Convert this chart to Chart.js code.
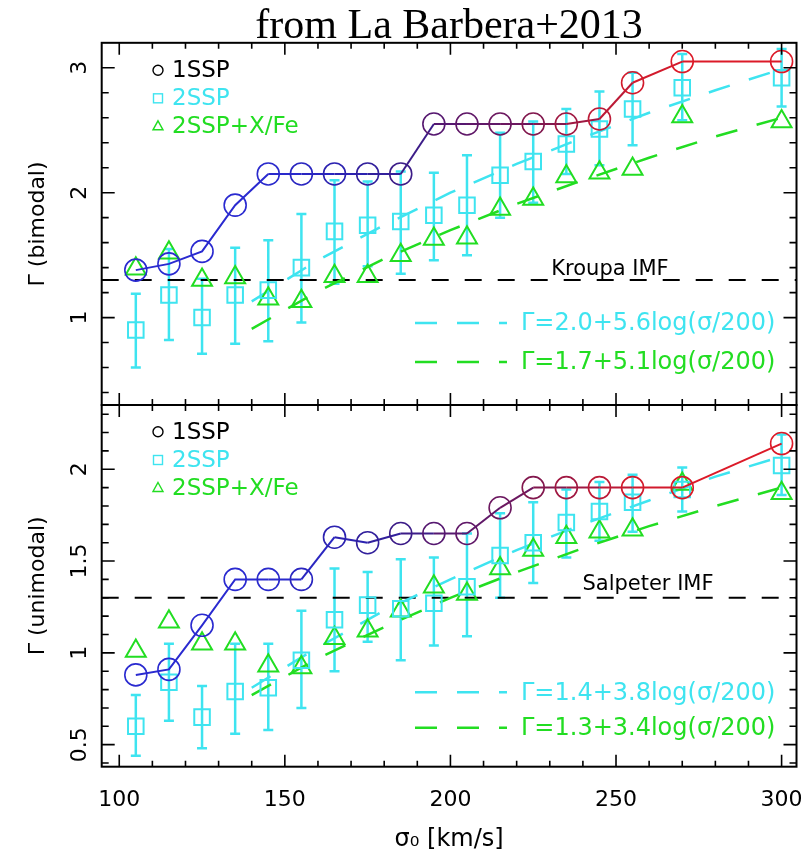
<!DOCTYPE html>
<html>
<head>
<meta charset="utf-8">
<script src="https://cdn.jsdelivr.net/npm/chart.js@4.4.0/dist/chart.umd.min.js"></script>
<style>
  html, body { margin: 0; padding: 0; background: #fff; }
  #wrap { position: relative; width: 805px; height: 860px; }
  #topChart { position: absolute; left: 0; top: 0; }
  #botChart { position: absolute; left: 0; top: 403px; }
</style>
</head>
<body>
<div id="wrap">
  <canvas id="topChart" width="805" height="407"></canvas>
  <canvas id="botChart" width="805" height="457"></canvas>
</div>
<script>
// velocity dispersion bins (km/s)
const sigma = [105, 115, 125, 135, 145, 155, 165, 175, 185, 195, 205, 215, 225, 235, 245, 255, 270, 300];

// bimodal IMF slope
const ssp1Bi   = [1.38, 1.43, 1.53, 1.90, 2.15, 2.15, 2.15, 2.15, 2.15, 2.55, 2.55, 2.55, 2.55, 2.55, 2.59, 2.88, 3.05, 3.05];
const ssp2Bi   = [0.90, 1.18, 1.00, 1.18, 1.22, 1.40, 1.69, 1.74, 1.77, 1.82, 1.90, 2.14, 2.25, 2.39, 2.51, 2.67, 2.84, 2.92];
const ssp2BiLo = [0.60, 0.82, 0.71, 0.79, 0.81, 0.96, 1.27, 1.41, 1.35, 1.46, 1.50, 1.80, 1.92, 2.15, 2.22, 2.38, 2.58, 2.69];
const ssp2BiHi = [1.19, 1.55, 1.31, 1.56, 1.62, 1.83, 2.10, 2.09, 2.17, 2.16, 2.30, 2.48, 2.57, 2.67, 2.81, 2.96, 3.11, 3.15];
const xfeBi    = [1.39, 1.52, 1.30, 1.32, 1.15, 1.13, 1.33, 1.33, 1.50, 1.63, 1.64, 1.87, 1.95, 2.13, 2.16, 2.19, 2.61, 2.57];

// unimodal IMF slope
const ssp1Uni   = [0.88, 0.91, 1.15, 1.40, 1.40, 1.40, 1.63, 1.60, 1.65, 1.65, 1.65, 1.79, 1.90, 1.90, 1.90, 1.90, 1.90, 2.14];
const ssp2Uni   = [0.60, 0.84, 0.65, 0.79, 0.81, 0.96, 1.18, 1.26, 1.24, 1.27, 1.36, 1.53, 1.60, 1.71, 1.77, 1.82, 1.89, 2.02];
const ssp2UniLo = [0.44, 0.63, 0.48, 0.56, 0.58, 0.70, 0.90, 1.06, 0.96, 1.04, 1.09, 1.30, 1.38, 1.52, 1.61, 1.66, 1.77, 1.86];
const ssp2UniHi = [0.77, 1.05, 0.82, 1.05, 1.05, 1.23, 1.46, 1.44, 1.51, 1.52, 1.65, 1.76, 1.82, 1.89, 1.93, 1.97, 2.01, 2.19];
const xfeUni    = [1.01, 1.17, 1.05, 1.05, 0.93, 0.92, 1.08, 1.12, 1.23, 1.36, 1.32, 1.46, 1.56, 1.63, 1.66, 1.67, 1.92, 1.87];

// fitted relations
const fitSigma    = [140, 160, 180, 200, 220, 240, 260, 280, 300];
const fitBiCyan   = [1.13, 1.46, 1.74, 2.00, 2.23, 2.44, 2.64, 2.82, 2.99];
const fitBiGreen  = [0.91, 1.21, 1.47, 1.70, 1.91, 2.10, 2.28, 2.45, 2.60];
const fitUniCyan  = [0.81, 1.03, 1.23, 1.40, 1.56, 1.70, 1.83, 1.96, 2.07];
const fitUniGreen = [0.77, 0.97, 1.14, 1.30, 1.44, 1.57, 1.69, 1.80, 1.90];

const kroupa = 1.3;
const salpeter = 1.3;

// tick labels
const xTicks = [100, 150, 200, 250, 300];
const yTicksBi = [1, 2, 3];
const yTicksUni = [0.5, 1, 1.5, 2];

const X_MIN = 94.7, X_MAX = 304.5;
const CYAN = '#3ee4f0';
const GREEN = '#22dd22';
const FONT = '"DejaVu Sans", sans-serif';
// blue -> purple -> red along the 1SSP sequence
const sspColors = ['#2a2ad0', '#2a2ad0', '#2a2ad0', '#2a2ad0', '#2a2acc', '#2a26c0', '#2c22b0', '#32209c',
  '#3c1c88', '#561870', '#601868', '#6c1860', '#82184e', '#a01842', '#bc1a36', '#d21a2c', '#dc1a28', '#dc1a28'];

const pts = (xs, ys) => xs.map((v, i) => ({ x: v, y: ys[i] }));

// PGPLOT-like frame, inward ticks, error bars and in-plot labels
const pgFrame = {
  id: 'pgFrame',
  beforeDatasetsDraw(chart, args, opts) {
    const { ctx, scales: { x, y } } = chart;
    ctx.save();
    ctx.strokeStyle = CYAN;
    ctx.lineWidth = 2.5;
    ctx.beginPath();
    sigma.forEach((s, i) => {
      const px = x.getPixelForValue(s);
      const lo = y.getPixelForValue(opts.lo[i]);
      const hi = y.getPixelForValue(opts.hi[i]);
      ctx.moveTo(px, lo); ctx.lineTo(px, hi);
      ctx.moveTo(px - 5, lo); ctx.lineTo(px + 5, lo);
      ctx.moveTo(px - 5, hi); ctx.lineTo(px + 5, hi);
    });
    ctx.stroke();
    ctx.restore();
  },
  afterDraw(chart, args, opts) {
    const { ctx, chartArea: a, scales: { x, y } } = chart;
    ctx.save();
    ctx.strokeStyle = '#000';
    ctx.lineWidth = 2;
    ctx.strokeRect(a.left, a.top, a.right - a.left, a.bottom - a.top);

    ctx.lineWidth = 1.6;
    ctx.beginPath();
    for (let v = 100; v <= 300; v += 10) {
      const px = x.getPixelForValue(v);
      const len = v % 50 === 0 ? 12 : 6;
      ctx.moveTo(px, a.bottom); ctx.lineTo(px, a.bottom - len);
      ctx.moveTo(px, a.top); ctx.lineTo(px, a.top + len);
    }
    const n = Math.round((opts.yLast - opts.yFirst) / opts.yMinor);
    for (let k = 0; k <= n; k++) {
      const v = opts.yFirst + k * opts.yMinor;
      const r = v / opts.yMajor;
      const len = Math.abs(r - Math.round(r)) < 1e-6 ? 13 : 7;
      const py = y.getPixelForValue(v);
      ctx.moveTo(a.left, py); ctx.lineTo(a.left + len, py);
      ctx.moveTo(a.right, py); ctx.lineTo(a.right - len, py);
    }
    ctx.stroke();

    // rotated y tick labels
    ctx.fillStyle = '#000';
    ctx.font = '22px ' + FONT;
    ctx.textAlign = 'center';
    ctx.textBaseline = 'alphabetic';
    opts.yTicks.forEach(v => {
      ctx.save();
      ctx.translate(86, y.getPixelForValue(v));
      ctx.rotate(-Math.PI / 2);
      ctx.fillText(String(v), 0, 0);
      ctx.restore();
    });

    // key, top left
    const kx = 158, tx = 172;
    const ky = opts.keyY.map(d => a.top + d);
    ctx.lineWidth = 1.4;
    ctx.strokeStyle = '#000';
    ctx.beginPath(); ctx.arc(kx, ky[0], 5, 0, Math.PI * 2); ctx.stroke();
    ctx.strokeStyle = CYAN;
    ctx.strokeRect(kx - 4.5, ky[1] - 4.5, 9, 9);
    ctx.strokeStyle = GREEN;
    ctx.beginPath();
    ctx.moveTo(kx, ky[2] - 5.5); ctx.lineTo(kx + 5, ky[2] + 3.5); ctx.lineTo(kx - 5, ky[2] + 3.5); ctx.closePath();
    ctx.stroke();
    ctx.font = '23px ' + FONT;
    ctx.textAlign = 'left';
    ctx.textBaseline = 'middle';
    [['1SSP', '#000'], ['2SSP', CYAN], ['2SSP+X/Fe', GREEN]].forEach(([t, c], i) => {
      ctx.fillStyle = c;
      ctx.fillText(t, tx, ky[i] + 1);
    });

    // fit legend, bottom right
    ctx.font = '24px ' + FONT;
    ctx.lineWidth = 2.5;
    ctx.setLineDash([22, 20]);
    [[opts.fitText[0], CYAN], [opts.fitText[1], GREEN]].forEach(([t, c], i) => {
      const py = a.bottom - opts.fitY[i];
      ctx.strokeStyle = c;
      ctx.beginPath(); ctx.moveTo(415, py); ctx.lineTo(507, py); ctx.stroke();
      ctx.fillStyle = c;
      ctx.fillText(t, 521, py + 1);
    });
    ctx.setLineDash([]);

    // IMF reference label
    ctx.fillStyle = '#000';
    ctx.font = '21px ' + FONT;
    ctx.textAlign = 'center';
    ctx.textBaseline = 'alphabetic';
    ctx.fillText(opts.imfText, opts.imfX, y.getPixelForValue(opts.imfValue) - opts.imfGap);
    ctx.restore();
  }
};

function panelDatasets(ssp1, ssp2, xfe, fitC, fitG, imf) {
  return [
    {
      label: '1SSP', data: pts(sigma, ssp1), showLine: true, borderWidth: 2,
      borderColor: sspColors[0], segment: { borderColor: c => sspColors[c.p0DataIndex] },
      pointStyle: 'circle', pointRadius: 11, pointBorderWidth: 1.6,
      pointBorderColor: sspColors, pointBackgroundColor: 'rgba(0,0,0,0)'
    },
    {
      label: '2SSP', data: pts(sigma, ssp2), showLine: false,
      pointStyle: 'rect', pointRadius: 11, pointBorderWidth: 2,
      pointBorderColor: CYAN, pointBackgroundColor: 'rgba(0,0,0,0)'
    },
    {
      label: '2SSP+X/Fe', data: pts(sigma, xfe), showLine: false,
      pointStyle: 'triangle', pointRadius: 11.5, pointBorderWidth: 2,
      pointBorderColor: GREEN, pointBackgroundColor: 'rgba(0,0,0,0)'
    },
    {
      label: 'fit 2SSP', data: pts(fitSigma, fitC), showLine: true,
      borderColor: CYAN, borderWidth: 2.5, borderDash: [22, 20], pointRadius: 0
    },
    {
      label: 'fit 2SSP+X/Fe', data: pts(fitSigma, fitG), showLine: true,
      borderColor: GREEN, borderWidth: 2.5, borderDash: [22, 20], pointRadius: 0
    },
    {
      label: 'IMF', data: [{ x: X_MIN, y: imf }, { x: X_MAX, y: imf }], showLine: true,
      borderColor: '#000', borderWidth: 2, borderDash: [17, 16], pointRadius: 0
    }
  ];
}

function yAxis(min, max, title) {
  return {
    min: min, max: max,
    afterFit: s => { s.width = 101.7; },
    ticks: { display: false },
    grid: { display: false },
    border: { display: false },
    title: {
      display: true, text: title, color: '#000',
      font: { family: FONT, size: 22 }, padding: { top: 25, bottom: 0 }
    }
  };
}

Chart.register(pgFrame);

const topChart = new Chart(document.getElementById('topChart'), {
  type: 'scatter',
  data: { datasets: panelDatasets(ssp1Bi, ssp2Bi, xfeBi, fitBiCyan, fitBiGreen, kroupa) },
  options: {
    responsive: false,
    animation: false,
    layout: { autoPadding: false, padding: { top: 0.4, right: 8.5, bottom: 2, left: 0 } },
    scales: {
      x: { type: 'linear', min: X_MIN, max: X_MAX, display: false },
      y: yAxis(0.3, 3.2, 'Γ (bimodal)')
    },
    plugins: {
      legend: { display: false },
      tooltip: { enabled: false },
      title: {
        display: true, fullSize: false, text: 'from La Barbera+2013', color: '#000',
        font: { family: '"Liberation Serif", serif', size: 42, weight: 'normal', lineHeight: 0.748 },
        padding: { top: 11, bottom: 0 }
      },
      pgFrame: {
        lo: ssp2BiLo, hi: ssp2BiHi,
        yFirst: 0.4, yLast: 3.0, yMinor: 0.2, yMajor: 1, yTicks: yTicksBi,
        keyY: [27.5, 55.5, 83.5],
        fitY: [82, 43],
        fitText: ['Γ=2.0+5.6log(σ/200)', 'Γ=1.7+5.1log(σ/200)'],
        imfText: 'Kroupa IMF', imfX: 610, imfValue: kroupa, imfGap: 5
      }
    }
  }
});

const botChart = new Chart(document.getElementById('botChart'), {
  type: 'scatter',
  data: { datasets: panelDatasets(ssp1Uni, ssp2Uni, xfeUni, fitUniCyan, fitUniGreen, salpeter) },
  options: {
    responsive: false,
    animation: false,
    layout: { autoPadding: false, padding: { top: 2, right: 8.5, bottom: 0, left: 0 } },
    scales: {
      x: {
        type: 'linear', min: X_MIN, max: X_MAX,
        afterBuildTicks: s => { s.ticks = xTicks.map(v => ({ value: v })); },
        afterFit: s => { s.height = 93.3; s.paddingLeft = 0; s.paddingRight = 0; },
        grid: { display: false, drawTicks: false },
        border: { display: false },
        ticks: { color: '#000', font: { family: FONT, size: 22 }, padding: 20, maxRotation: 0 },
        title: {
          display: true, text: 'σ₀ [km/s]', color: '#000',
          font: { family: FONT, size: 24 }, padding: { top: 0, bottom: 6 }
        }
      },
      y: yAxis(0.38, 2.35, 'Γ (unimodal)')
    },
    plugins: {
      legend: { display: false },
      tooltip: { enabled: false },
      pgFrame: {
        lo: ssp2UniLo, hi: ssp2UniHi,
        yFirst: 0.4, yLast: 2.3, yMinor: 0.1, yMajor: 0.5, yTicks: yTicksUni,
        keyY: [26.7, 55, 83],
        fitY: [74.4, 39],
        fitText: ['Γ=1.4+3.8log(σ/200)', 'Γ=1.3+3.4log(σ/200)'],
        imfText: 'Salpeter IMF', imfX: 648, imfValue: salpeter, imfGap: 8
      }
    }
  }
});
</script>
</body>
</html>
